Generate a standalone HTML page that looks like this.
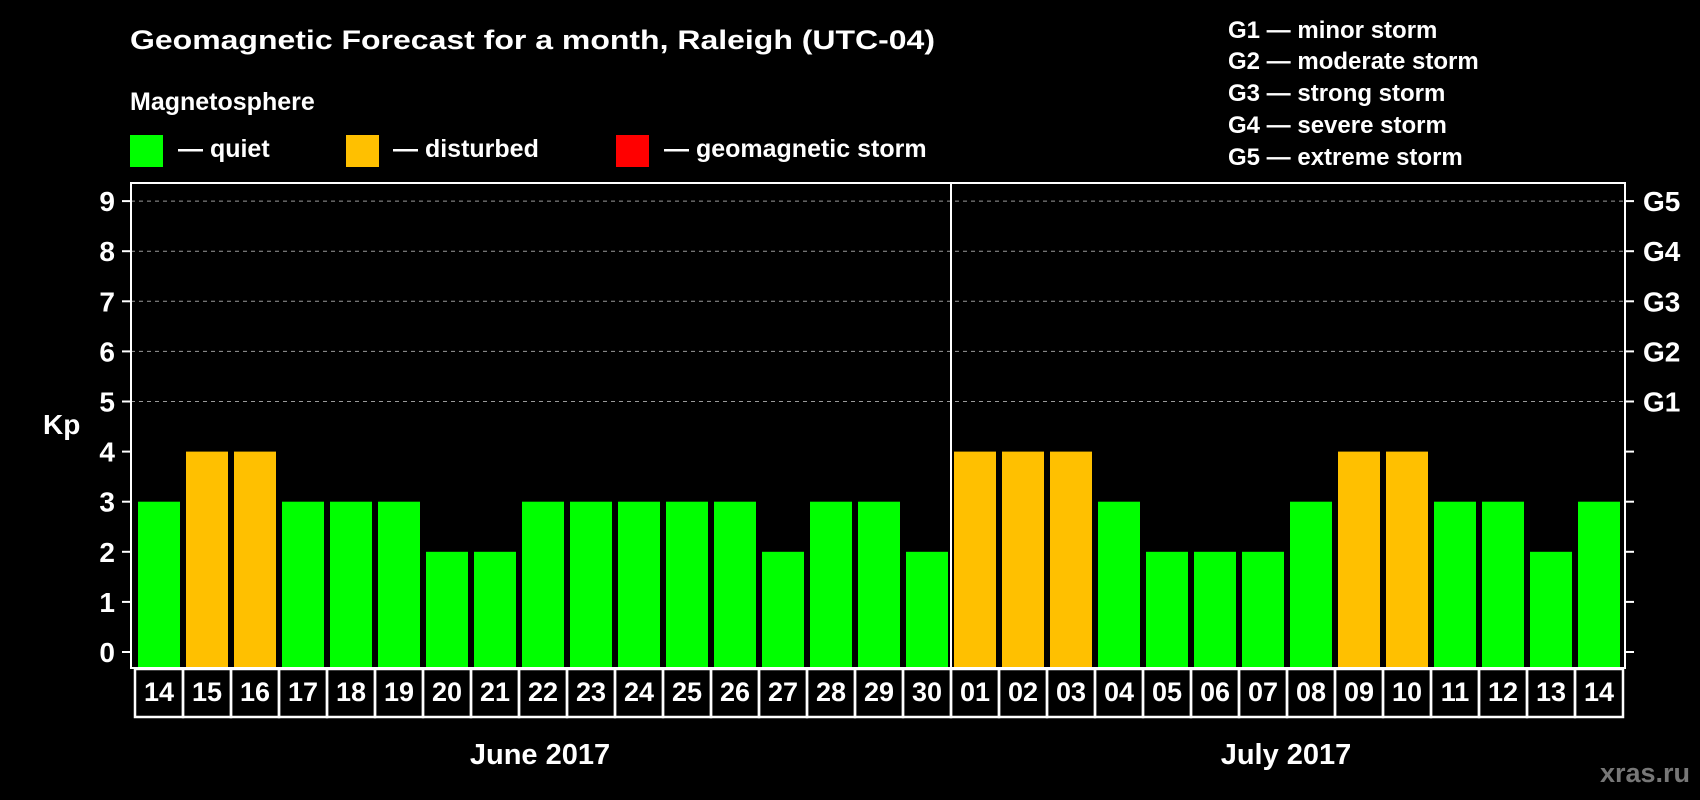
<!DOCTYPE html>
<html><head><meta charset="utf-8"><style>
html,body{margin:0;padding:0;background:#000;}
svg{display:block;font-family:"Liberation Sans",Arial,sans-serif;font-weight:bold;}
</style></head><body>
<svg id="chart" width="1700" height="800" viewBox="0 0 1700 800">
<rect width="1700" height="800" fill="#000"/>
<text x="130" y="49" font-size="27" fill="#fff" textLength="805" lengthAdjust="spacingAndGlyphs">Geomagnetic Forecast for a month, Raleigh (UTC-04)</text>
<text x="130" y="110" font-size="25" fill="#fff">Magnetosphere</text>
<g><rect x="130" y="135" width="33" height="32" fill="#00ff00"/><text x="178" y="157" font-size="25" fill="#fff">— quiet</text></g>
<g><rect x="346" y="135" width="33" height="32" fill="#ffc000"/><text x="393" y="157" font-size="25" fill="#fff">— disturbed</text></g>
<g><rect x="616" y="135" width="33" height="32" fill="#ff0000"/><text x="664" y="157" font-size="25" fill="#fff">— geomagnetic storm</text></g>
<g font-size="24" fill="#fff">
<text x="1228" y="38">G1 — minor storm</text>
<text x="1228" y="69">G2 — moderate storm</text>
<text x="1228" y="101">G3 — strong storm</text>
<text x="1228" y="133">G4 — severe storm</text>
<text x="1228" y="165">G5 — extreme storm</text>
</g>
<text x="43" y="434" font-size="28" fill="#fff">Kp</text>
<g id="grid"></g><g id="bars"></g><g id="axes"></g><g id="labels"></g>
<text x="540" y="764" font-size="29" fill="#fff" text-anchor="middle">June 2017</text>
<text x="1286" y="764" font-size="29" fill="#fff" text-anchor="middle">July 2017</text>
<text x="1690" y="782" font-size="27" fill="#777" text-anchor="end">xras.ru</text>
</svg>
<script>
const days = ["14","15","16","17","18","19","20","21","22","23","24","25","26","27","28","29","30","01","02","03","04","05","06","07","08","09","10","11","12","13","14"];
const kpValues = [3,4,4,3,3,3,2,2,3,3,3,3,3,2,3,3,2,4,4,4,3,2,2,2,3,4,4,3,3,2,3];
const yTicks = [0,1,2,3,4,5,6,7,8,9];
const gLabels = ["G1","G2","G3","G4","G5"];
const gLevels = [5,6,7,8,9];
const NS="http://www.w3.org/2000/svg";
const L=131,R=1625,T=183,B=668,Y0=652,UNIT=50.1,PITCH=48,BX0=138,BW=42;
const yScale=v=>Y0-v*UNIT;
const xScale=i=>BX0+i*PITCH;
function mk(tag,attrs,parent){const e=document.createElementNS(NS,tag);for(const k in attrs)e.setAttribute(k,attrs[k]);parent.appendChild(e);return e;}
const grid=document.getElementById('grid'),bars=document.getElementById('bars'),axes=document.getElementById('axes'),labels=document.getElementById('labels');
yTicks.forEach(v=>{
  const y=yScale(v);
  if(v>=5){const g=mk('line',{x1:L,x2:R,y1:y,y2:y,stroke:'#999','stroke-width':1,'stroke-dasharray':'4,4'},grid);
  
  }
  const t=mk('line',{x1:L-9,x2:L,y1:y,y2:y,stroke:'#fff','stroke-width':2},axes);
  
  
  const t2=mk('line',{x1:R,x2:R+9,y1:y,y2:y,stroke:'#fff','stroke-width':2},axes);
  
  
  const tx=mk('text',{x:115,y:y+10,'font-size':28,fill:'#fff','text-anchor':'end'},axes);tx.textContent=v;
  
  
});
gLabels.forEach((g,i)=>{const y=yScale(gLevels[i]);
  const tx=mk('text',{x:1643,y:y+10,'font-size':28,fill:'#fff'},axes);tx.textContent=g;
  
  
});
kpValues.forEach((v,i)=>{
  const r=mk('rect',{x:xScale(i),y:yScale(v),width:BW,height:Y0+16-yScale(v)-0,fill:v>=5?'#ff0000':(v>=4?'#ffc000':'#00ff00')},bars);
  r.setAttribute('height',B-yScale(v));
  
  
});
const frame=mk('rect',{x:L,y:T,width:R-L,height:B-T,fill:'none',stroke:'#fff','stroke-width':2},axes);


const div=mk('line',{x1:xScale(17)-3,x2:xScale(17)-3,y1:T,y2:B,stroke:'#fff','stroke-width':2},axes);


days.forEach((d,i)=>{
  const x=135+i*PITCH;
  const c=mk('rect',{x:x,y:669,width:PITCH,height:48,fill:'none',stroke:'#fff','stroke-width':2.5},labels);
  
  
  const t=mk('text',{x:x+PITCH/2,y:701,'font-size':27,fill:'#fff','text-anchor':'middle'},labels);t.textContent=d;
  
  
});
</script>
</body></html>
